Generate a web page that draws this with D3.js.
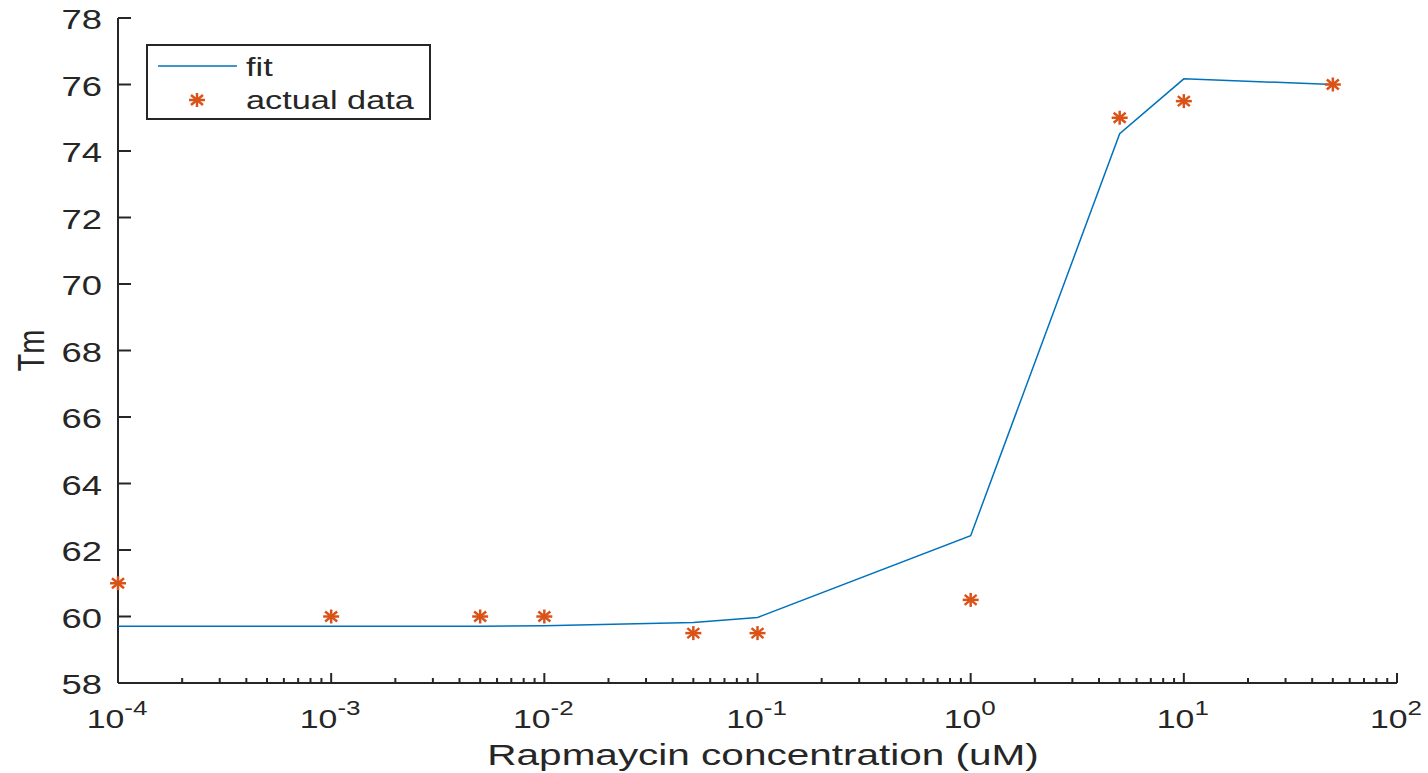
<!DOCTYPE html>
<html>
  <head>
    <meta charset="utf-8">
    <script src="https://d3js.org/d3.v7.min.js"></script>
    <style>
      body { margin: 0; background: #fff; }
      text { font-family: "Liberation Sans", Arial, sans-serif; fill: #262626; }
    </style>
  </head>
  <body>
    <div id="chart"></div>
    <script type="text/javascript">
    // concentrations (uM)
    var conc = [1e-4, 1e-3, 5e-3, 1e-2, 5e-2, 0.1, 1, 5, 10, 50];
    // measured Tm
    var actualTm = [61, 60, 60, 60, 59.5, 59.5, 60.5, 75, 75.5, 76];
    // fitted Tm at the same concentrations
    var fitTm = [59.71, 59.71, 59.71, 59.72, 59.82, 59.97, 62.43, 74.52, 76.17, 76.0];
    var yTicks = [58, 60, 62, 64, 66, 68, 70, 72, 74, 76, 78];
    var xTicks = [1e-4, 1e-3, 1e-2, 1e-1, 1e0, 1e1, 1e2];

    var W = 1428, H = 773;
    var pLeft = 118, pRight = 1397, pTop = 18, pBottom = 683;
    var sx = 1.3; // the figure is a bit wider than tall, text gets stretched too

    var svg = d3.select("#chart").append("svg")
      .attr("width", W).attr("height", H);

    var x = d3.scaleLog().domain([1e-4, 1e2]).range([pLeft, pRight]);
    var y = d3.scaleLinear().domain([58, 78]).range([pBottom, pTop]);

    var axisColor = "#262626";

    // helper for stretched text
    function label(px, py, str, fs, anchor, stretch) {
      var g = svg.append("g")
        .attr("transform", "translate(" + px + "," + py + ") scale(" + (stretch || sx) + ",1)");
      return g.append("text")
        .attr("text-anchor", anchor || "start")
        .style("font-size", fs + "px")
        .text(str);
    }

    // y axis line + ticks
    svg.append("line").attr("x1", pLeft).attr("x2", pLeft)
      .attr("y1", pTop).attr("y2", pBottom)
      .attr("stroke", axisColor).attr("stroke-width", 2);
    svg.selectAll(".ytick").data(yTicks).enter().append("line")
      .attr("x1", pLeft).attr("x2", pLeft + 13)
      .attr("y1", function(d){ return y(d); })
      .attr("y2", function(d){ return y(d); })
      .attr("stroke", axisColor).attr("stroke-width", 2);
    yTicks.forEach(function(d){
      label(pLeft - 16, y(d) + 11, d, 28, "end");
    });

    // x axis line + major/minor ticks
    svg.append("line").attr("x1", pLeft).attr("x2", pRight)
      .attr("y1", pBottom).attr("y2", pBottom)
      .attr("stroke", axisColor).attr("stroke-width", 2);
    var minor = [];
    for (var e = -4; e < 2; e++) {
      for (var m = 2; m <= 9; m++) minor.push(m * Math.pow(10, e));
    }
    svg.selectAll(".xminor").data(minor).enter().append("line")
      .attr("x1", function(d){ return x(d); })
      .attr("x2", function(d){ return x(d); })
      .attr("y1", pBottom).attr("y2", pBottom - 5)
      .attr("stroke", axisColor).attr("stroke-width", 2);
    svg.selectAll(".xmajor").data(xTicks).enter().append("line")
      .attr("x1", function(d){ return x(d); })
      .attr("x2", function(d){ return x(d); })
      .attr("y1", pBottom).attr("y2", pBottom - 10)
      .attr("stroke", axisColor).attr("stroke-width", 2);
    xTicks.forEach(function(d){
      var t = label(x(d) - 1, 728, "", 26, "middle");
      t.append("tspan").text("10");
      t.append("tspan").attr("dy", -13).style("font-size", "20px")
        .text(Math.round(Math.log10(d)));
    });

    // axis titles
    label(763, 765, "Rapmaycin concentration (uM)", 30, "middle", 1.35);
    svg.append("g")
      .attr("transform", "translate(44," + (pTop + pBottom) / 2 + ") scale(" + sx + ",1) rotate(-90)")
      .append("text")
      .attr("text-anchor", "middle")
      .style("font-size", "29px")
      .text("Tm");

    // fit line
    var line = d3.line()
      .x(function(d){ return x(d[0]); })
      .y(function(d){ return y(d[1]); });
    svg.append("path")
      .datum(d3.zip(conc, fitTm))
      .attr("d", line)
      .attr("fill", "none")
      .attr("stroke", "#0072BD")
      .attr("stroke-width", 1.5);

    // asterisk markers
    function asterisk(g, cx, cy) {
      var rx = 8, ry = 7, dx = 6, dy = 5;
      var segs = [[-rx,0,rx,0],[0,-ry,0,ry],[-dx,-dy,dx,dy],[-dx,dy,dx,-dy]];
      segs.forEach(function(s){
        g.append("line")
          .attr("x1", cx + s[0]).attr("y1", cy + s[1])
          .attr("x2", cx + s[2]).attr("y2", cy + s[3])
          .attr("stroke", "#D95319").attr("stroke-width", 2.5);
      });
    }
    var pts = svg.append("g");
    d3.zip(conc, actualTm).forEach(function(d){
      asterisk(pts, x(d[0]), y(d[1]));
    });

    // legend
    var lg = svg.append("g");
    lg.append("rect").attr("x", 147).attr("y", 45)
      .attr("width", 283).attr("height", 74)
      .attr("fill", "#fff").attr("stroke", axisColor).attr("stroke-width", 2);
    lg.append("line").attr("x1", 158).attr("x2", 237)
      .attr("y1", 66).attr("y2", 66)
      .attr("stroke", "#0072BD").attr("stroke-width", 1.5);
    label(246, 76, "fit", 26, "start", 1.32);
    asterisk(lg, 197, 100);
    label(246, 109, "actual data", 26, "start", 1.32);
    </script>
  </body>
</html>
